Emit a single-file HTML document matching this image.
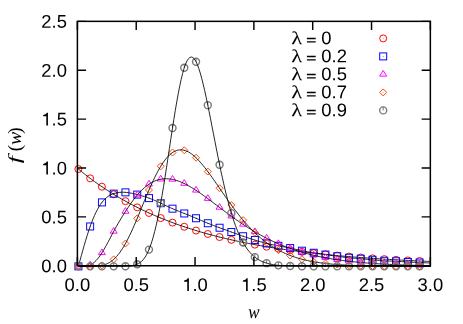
<!DOCTYPE html>
<html><head><meta charset="utf-8"><title>plot</title><style>html,body{margin:0;padding:0;background:#fff}svg{display:block;will-change:transform}</style></head><body>
<svg width="463" height="324" viewBox="0 0 463 324">
<rect width="463" height="324" fill="#fff"/>
<g fill="none" stroke="#ff0000" stroke-width="0.98"><circle cx="78.39" cy="169.08" r="3.5"/><circle cx="78.39" cy="169.08" r="0.45" fill="#ff0000" stroke="none"/><circle cx="90.15" cy="178.33" r="3.5"/><circle cx="90.15" cy="178.33" r="0.45" fill="#ff0000" stroke="none"/><circle cx="101.92" cy="186.71" r="3.5"/><circle cx="101.92" cy="186.71" r="0.45" fill="#ff0000" stroke="none"/><circle cx="113.68" cy="194.29" r="3.5"/><circle cx="113.68" cy="194.29" r="0.45" fill="#ff0000" stroke="none"/><circle cx="125.45" cy="201.15" r="3.5"/><circle cx="125.45" cy="201.15" r="0.45" fill="#ff0000" stroke="none"/><circle cx="137.21" cy="207.35" r="3.5"/><circle cx="137.21" cy="207.35" r="0.45" fill="#ff0000" stroke="none"/><circle cx="148.98" cy="212.97" r="3.5"/><circle cx="148.98" cy="212.97" r="0.45" fill="#ff0000" stroke="none"/><circle cx="160.74" cy="218.05" r="3.5"/><circle cx="160.74" cy="218.05" r="0.45" fill="#ff0000" stroke="none"/><circle cx="172.51" cy="222.64" r="3.5"/><circle cx="172.51" cy="222.64" r="0.45" fill="#ff0000" stroke="none"/><circle cx="184.27" cy="226.80" r="3.5"/><circle cx="184.27" cy="226.80" r="0.45" fill="#ff0000" stroke="none"/><circle cx="196.04" cy="230.57" r="3.5"/><circle cx="196.04" cy="230.57" r="0.45" fill="#ff0000" stroke="none"/><circle cx="207.80" cy="233.97" r="3.5"/><circle cx="207.80" cy="233.97" r="0.45" fill="#ff0000" stroke="none"/><circle cx="219.57" cy="237.05" r="3.5"/><circle cx="219.57" cy="237.05" r="0.45" fill="#ff0000" stroke="none"/><circle cx="231.33" cy="239.84" r="3.5"/><circle cx="231.33" cy="239.84" r="0.45" fill="#ff0000" stroke="none"/><circle cx="243.10" cy="242.36" r="3.5"/><circle cx="243.10" cy="242.36" r="0.45" fill="#ff0000" stroke="none"/><circle cx="254.86" cy="244.65" r="3.5"/><circle cx="254.86" cy="244.65" r="0.45" fill="#ff0000" stroke="none"/><circle cx="266.63" cy="246.71" r="3.5"/><circle cx="266.63" cy="246.71" r="0.45" fill="#ff0000" stroke="none"/><circle cx="278.39" cy="248.58" r="3.5"/><circle cx="278.39" cy="248.58" r="0.45" fill="#ff0000" stroke="none"/><circle cx="290.16" cy="250.27" r="3.5"/><circle cx="290.16" cy="250.27" r="0.45" fill="#ff0000" stroke="none"/><circle cx="301.92" cy="251.80" r="3.5"/><circle cx="301.92" cy="251.80" r="0.45" fill="#ff0000" stroke="none"/><circle cx="313.69" cy="253.19" r="3.5"/><circle cx="313.69" cy="253.19" r="0.45" fill="#ff0000" stroke="none"/><circle cx="325.45" cy="254.44" r="3.5"/><circle cx="325.45" cy="254.44" r="0.45" fill="#ff0000" stroke="none"/><circle cx="337.22" cy="255.57" r="3.5"/><circle cx="337.22" cy="255.57" r="0.45" fill="#ff0000" stroke="none"/><circle cx="348.98" cy="256.60" r="3.5"/><circle cx="348.98" cy="256.60" r="0.45" fill="#ff0000" stroke="none"/><circle cx="360.75" cy="257.53" r="3.5"/><circle cx="360.75" cy="257.53" r="0.45" fill="#ff0000" stroke="none"/><circle cx="372.51" cy="258.37" r="3.5"/><circle cx="372.51" cy="258.37" r="0.45" fill="#ff0000" stroke="none"/><circle cx="384.28" cy="259.13" r="3.5"/><circle cx="384.28" cy="259.13" r="0.45" fill="#ff0000" stroke="none"/><circle cx="396.04" cy="259.81" r="3.5"/><circle cx="396.04" cy="259.81" r="0.45" fill="#ff0000" stroke="none"/><circle cx="407.81" cy="260.43" r="3.5"/><circle cx="407.81" cy="260.43" r="0.45" fill="#ff0000" stroke="none"/><circle cx="419.57" cy="261.00" r="3.5"/><circle cx="419.57" cy="261.00" r="0.45" fill="#ff0000" stroke="none"/></g>
<path d="M78.39 169.08L79.86 170.26L81.32 171.43L82.79 172.60L84.26 173.77L85.73 174.93L87.20 176.07L88.67 177.20L90.13 178.32L91.60 179.42L93.07 180.50L94.54 181.57L96.01 182.62L97.47 183.65L98.94 184.68L100.41 185.69L101.88 186.68L103.35 187.67L104.82 188.64L106.28 189.61L107.75 190.56L109.22 191.50L110.69 192.43L112.16 193.35L113.62 194.25L115.09 195.15L116.56 196.03L118.03 196.90L119.50 197.76L120.97 198.61L122.43 199.45L123.90 200.28L125.37 201.10L126.84 201.91L128.31 202.71L129.77 203.50L131.24 204.28L132.71 205.05L134.18 205.81L135.65 206.56L137.12 207.30L138.58 208.03L140.05 208.76L141.52 209.47L142.99 210.18L144.46 210.87L145.92 211.56L147.39 212.24L148.86 212.91L150.33 213.58L151.80 214.23L153.27 214.88L154.73 215.51L156.20 216.14L157.67 216.77L159.14 217.38L160.61 217.99L162.07 218.59L163.54 219.18L165.01 219.77L166.48 220.34L167.95 220.91L169.42 221.48L170.88 222.03L172.35 222.58L173.82 223.13L175.29 223.66L176.76 224.19L178.22 224.72L179.69 225.23L181.16 225.74L182.63 226.25L184.10 226.74L185.56 227.23L187.03 227.72L188.50 228.20L189.97 228.67L191.44 229.14L192.91 229.60L194.37 230.06L195.84 230.51L197.31 230.95L198.78 231.39L200.25 231.82L201.71 232.25L203.18 232.67L204.65 233.09L206.12 233.50L207.59 233.91L209.06 234.31L210.52 234.71L211.99 235.10L213.46 235.49L214.93 235.87L216.40 236.25L217.86 236.62L219.33 236.99L220.80 237.36L222.27 237.72L223.74 238.07L225.21 238.42L226.67 238.77L228.14 239.11L229.61 239.45L231.08 239.78L232.55 240.11L234.01 240.44L235.48 240.76L236.95 241.08L238.42 241.39L239.89 241.70L241.36 242.00L242.82 242.31L244.29 242.61L245.76 242.90L247.23 243.19L248.70 243.48L250.16 243.76L251.63 244.04L253.10 244.32L254.57 244.59L256.04 244.86L257.51 245.13L258.97 245.39L260.44 245.65L261.91 245.91L263.38 246.16L264.85 246.41L266.31 246.66L267.78 246.90L269.25 247.14L270.72 247.38L272.19 247.62L273.66 247.85L275.12 248.08L276.59 248.31L278.06 248.53L279.53 248.75L281.00 248.97L282.46 249.18L283.93 249.40L285.40 249.61L286.87 249.82L288.34 250.02L289.81 250.22L291.27 250.42L292.74 250.62L294.21 250.82L295.68 251.01L297.15 251.20L298.61 251.39L300.08 251.57L301.55 251.75L303.02 251.94L304.49 252.11L305.96 252.29L307.42 252.47L308.89 252.64L310.36 252.81L311.83 252.98L313.30 253.14L314.76 253.31L316.23 253.47L317.70 253.63L319.17 253.78L320.64 253.94L322.11 254.09L323.57 254.25L325.04 254.40L326.51 254.54L327.98 254.69L329.45 254.84L330.91 254.98L332.38 255.12L333.85 255.26L335.32 255.40L336.79 255.53L338.26 255.67L339.72 255.80L341.19 255.93L342.66 256.06L344.13 256.19L345.60 256.31L347.06 256.44L348.53 256.56L350.00 256.68L351.47 256.80L352.94 256.92L354.40 257.04L355.87 257.15L357.34 257.27L358.81 257.38L360.28 257.49L361.75 257.60L363.21 257.71L364.68 257.82L366.15 257.92L367.62 258.03L369.09 258.13L370.55 258.23L372.02 258.33L373.49 258.43L374.96 258.53L376.43 258.63L377.90 258.72L379.36 258.82L380.83 258.91L382.30 259.00L383.77 259.09L385.24 259.18L386.70 259.27L388.17 259.36L389.64 259.45L391.11 259.53L392.58 259.62L394.05 259.70L395.51 259.78L396.98 259.86L398.45 259.95L399.92 260.02L401.39 260.10L402.85 260.18L404.32 260.26L405.79 260.33L407.26 260.41L408.73 260.48L410.20 260.55L411.66 260.63L413.13 260.70L414.60 260.77L416.07 260.84L417.54 260.90L419.00 260.97L420.47 261.04L421.94 261.10L423.41 261.17L424.88 261.23L426.35 261.29L427.81 261.36L429.28 261.42L430.75 261.48" fill="none" stroke="#000" stroke-width="0.85" stroke-linejoin="round"/>
<g fill="none" stroke="#0000ff" stroke-width="0.98"><rect x="74.89" y="262.85" width="7.0" height="7.0"/><circle cx="78.39" cy="266.35" r="0.45" fill="#0000ff" stroke="none"/><rect x="86.65" y="222.96" width="7.0" height="7.0"/><circle cx="90.15" cy="226.46" r="0.45" fill="#0000ff" stroke="none"/><rect x="98.42" y="198.91" width="7.0" height="7.0"/><circle cx="101.92" cy="202.41" r="0.45" fill="#0000ff" stroke="none"/><rect x="110.18" y="190.12" width="7.0" height="7.0"/><circle cx="113.68" cy="193.62" r="0.45" fill="#0000ff" stroke="none"/><rect x="121.95" y="188.85" width="7.0" height="7.0"/><circle cx="125.45" cy="192.35" r="0.45" fill="#0000ff" stroke="none"/><rect x="133.71" y="191.09" width="7.0" height="7.0"/><circle cx="137.21" cy="194.59" r="0.45" fill="#0000ff" stroke="none"/><rect x="145.48" y="194.61" width="7.0" height="7.0"/><circle cx="148.98" cy="198.11" r="0.45" fill="#0000ff" stroke="none"/><rect x="157.24" y="199.70" width="7.0" height="7.0"/><circle cx="160.74" cy="203.20" r="0.45" fill="#0000ff" stroke="none"/><rect x="169.01" y="205.17" width="7.0" height="7.0"/><circle cx="172.51" cy="208.67" r="0.45" fill="#0000ff" stroke="none"/><rect x="180.77" y="209.96" width="7.0" height="7.0"/><circle cx="184.27" cy="213.46" r="0.45" fill="#0000ff" stroke="none"/><rect x="192.54" y="214.75" width="7.0" height="7.0"/><circle cx="196.04" cy="218.25" r="0.45" fill="#0000ff" stroke="none"/><rect x="204.30" y="219.74" width="7.0" height="7.0"/><circle cx="207.80" cy="223.24" r="0.45" fill="#0000ff" stroke="none"/><rect x="216.07" y="224.23" width="7.0" height="7.0"/><circle cx="219.57" cy="227.73" r="0.45" fill="#0000ff" stroke="none"/><rect x="227.83" y="228.54" width="7.0" height="7.0"/><circle cx="231.33" cy="232.04" r="0.45" fill="#0000ff" stroke="none"/><rect x="239.60" y="232.74" width="7.0" height="7.0"/><circle cx="243.10" cy="236.24" r="0.45" fill="#0000ff" stroke="none"/><rect x="251.36" y="236.55" width="7.0" height="7.0"/><circle cx="254.86" cy="240.05" r="0.45" fill="#0000ff" stroke="none"/><rect x="263.13" y="239.88" width="7.0" height="7.0"/><circle cx="266.63" cy="243.38" r="0.45" fill="#0000ff" stroke="none"/><rect x="274.89" y="242.32" width="7.0" height="7.0"/><circle cx="278.39" cy="245.82" r="0.45" fill="#0000ff" stroke="none"/><rect x="286.66" y="244.57" width="7.0" height="7.0"/><circle cx="290.16" cy="248.07" r="0.45" fill="#0000ff" stroke="none"/><rect x="298.42" y="247.21" width="7.0" height="7.0"/><circle cx="301.92" cy="250.71" r="0.45" fill="#0000ff" stroke="none"/><rect x="310.19" y="249.26" width="7.0" height="7.0"/><circle cx="313.69" cy="252.76" r="0.45" fill="#0000ff" stroke="none"/><rect x="321.95" y="251.02" width="7.0" height="7.0"/><circle cx="325.45" cy="254.52" r="0.45" fill="#0000ff" stroke="none"/><rect x="333.72" y="252.78" width="7.0" height="7.0"/><circle cx="337.22" cy="256.28" r="0.45" fill="#0000ff" stroke="none"/><rect x="345.48" y="254.25" width="7.0" height="7.0"/><circle cx="348.98" cy="257.75" r="0.45" fill="#0000ff" stroke="none"/><rect x="357.25" y="255.22" width="7.0" height="7.0"/><circle cx="360.75" cy="258.72" r="0.45" fill="#0000ff" stroke="none"/><rect x="369.01" y="256.30" width="7.0" height="7.0"/><circle cx="372.51" cy="259.80" r="0.45" fill="#0000ff" stroke="none"/><rect x="380.78" y="257.28" width="7.0" height="7.0"/><circle cx="384.28" cy="260.78" r="0.45" fill="#0000ff" stroke="none"/><rect x="392.54" y="257.77" width="7.0" height="7.0"/><circle cx="396.04" cy="261.27" r="0.45" fill="#0000ff" stroke="none"/><rect x="404.31" y="258.45" width="7.0" height="7.0"/><circle cx="407.81" cy="261.95" r="0.45" fill="#0000ff" stroke="none"/><rect x="416.07" y="259.04" width="7.0" height="7.0"/><circle cx="419.57" cy="262.54" r="0.45" fill="#0000ff" stroke="none"/></g>
<path d="M78.39 266.35L79.86 260.97L81.32 255.63L82.79 250.36L84.26 245.21L85.73 240.21L87.20 235.41L88.67 230.83L90.13 226.52L91.60 222.51L93.07 218.80L94.54 215.38L96.01 212.25L97.47 209.40L98.94 206.82L100.41 204.51L101.88 202.47L103.35 200.67L104.82 199.12L106.28 197.78L107.75 196.63L109.22 195.67L110.69 194.86L112.16 194.19L113.62 193.64L115.09 193.19L116.56 192.83L118.03 192.56L119.50 192.37L120.97 192.26L122.43 192.22L123.90 192.25L125.37 192.34L126.84 192.48L128.31 192.68L129.77 192.92L131.24 193.20L132.71 193.51L134.18 193.84L135.65 194.20L137.12 194.57L138.58 194.95L140.05 195.34L141.52 195.74L142.99 196.16L144.46 196.60L145.92 197.06L147.39 197.55L148.86 198.07L150.33 198.62L151.80 199.20L153.27 199.81L154.73 200.44L156.20 201.10L157.67 201.76L159.14 202.44L160.61 203.13L162.07 203.83L163.54 204.52L165.01 205.22L166.48 205.92L167.95 206.60L169.42 207.28L170.88 207.95L172.35 208.60L173.82 209.24L175.29 209.86L176.76 210.46L178.22 211.06L179.69 211.65L181.16 212.23L182.63 212.81L184.10 213.39L185.56 213.97L187.03 214.56L188.50 215.15L189.97 215.74L191.44 216.34L192.91 216.94L194.37 217.55L195.84 218.17L197.31 218.79L198.78 219.42L200.25 220.05L201.71 220.68L203.18 221.31L204.65 221.93L206.12 222.54L207.59 223.15L209.06 223.74L210.52 224.32L211.99 224.90L213.46 225.46L214.93 226.01L216.40 226.56L217.86 227.11L219.33 227.65L220.80 228.19L222.27 228.73L223.74 229.26L225.21 229.80L226.67 230.34L228.14 230.87L229.61 231.41L231.08 231.94L232.55 232.48L234.01 233.01L235.48 233.54L236.95 234.07L238.42 234.60L239.89 235.12L241.36 235.64L242.82 236.15L244.29 236.65L245.76 237.14L247.23 237.63L248.70 238.11L250.16 238.58L251.63 239.04L253.10 239.51L254.57 239.96L256.04 240.41L257.51 240.86L258.97 241.29L260.44 241.72L261.91 242.14L263.38 242.54L264.85 242.93L266.31 243.30L267.78 243.65L269.25 243.99L270.72 244.31L272.19 244.62L273.66 244.92L275.12 245.20L276.59 245.48L278.06 245.76L279.53 246.03L281.00 246.30L282.46 246.57L283.93 246.84L285.40 247.11L286.87 247.40L288.34 247.69L289.81 247.99L291.27 248.31L292.74 248.64L294.21 248.97L295.68 249.31L297.15 249.65L298.61 249.99L300.08 250.32L301.55 250.63L303.02 250.93L304.49 251.22L305.96 251.49L307.42 251.75L308.89 252.00L310.36 252.24L311.83 252.47L313.30 252.70L314.76 252.93L316.23 253.15L317.70 253.37L319.17 253.59L320.64 253.80L322.11 254.02L323.57 254.24L325.04 254.46L326.51 254.68L327.98 254.90L329.45 255.12L330.91 255.35L332.38 255.57L333.85 255.79L335.32 256.01L336.79 256.22L338.26 256.43L339.72 256.63L341.19 256.83L342.66 257.02L344.13 257.21L345.60 257.38L347.06 257.55L348.53 257.70L350.00 257.85L351.47 257.98L352.94 258.11L354.40 258.22L355.87 258.34L357.34 258.45L358.81 258.57L360.28 258.69L361.75 258.81L363.21 258.93L364.68 259.06L366.15 259.20L367.62 259.33L369.09 259.47L370.55 259.61L372.02 259.75L373.49 259.89L374.96 260.03L376.43 260.17L377.90 260.30L379.36 260.43L380.83 260.54L382.30 260.65L383.77 260.75L385.24 260.83L386.70 260.90L388.17 260.96L389.64 261.02L391.11 261.07L392.58 261.13L394.05 261.18L395.51 261.24L396.98 261.31L398.45 261.39L399.92 261.47L401.39 261.56L402.85 261.65L404.32 261.74L405.79 261.83L407.26 261.92L408.73 262.00L410.20 262.09L411.66 262.16L413.13 262.24L414.60 262.31L416.07 262.38L417.54 262.45L419.00 262.51L420.47 262.58L421.94 262.64L423.41 262.70L424.88 262.76L426.35 262.82L427.81 262.88L429.28 262.94L430.75 263.00" fill="none" stroke="#000" stroke-width="0.85" stroke-linejoin="round"/>
<g fill="none" stroke="#ff00ff" stroke-width="0.98"><path d="M78.39 262.43L74.89 268.10H81.89Z"/><circle cx="78.39" cy="266.35" r="0.45" fill="#ff00ff" stroke="none"/><path d="M90.15 261.26L86.65 266.93H93.65Z"/><circle cx="90.15" cy="265.18" r="0.45" fill="#ff00ff" stroke="none"/><path d="M101.92 248.94L98.42 254.61H105.42Z"/><circle cx="101.92" cy="252.86" r="0.45" fill="#ff00ff" stroke="none"/><path d="M113.68 227.49L110.18 233.16H117.18Z"/><circle cx="113.68" cy="231.41" r="0.45" fill="#ff00ff" stroke="none"/><path d="M125.45 207.59L121.95 213.26H128.95Z"/><circle cx="125.45" cy="211.51" r="0.45" fill="#ff00ff" stroke="none"/><path d="M137.21 191.17L133.71 196.84H140.71Z"/><circle cx="137.21" cy="195.09" r="0.45" fill="#ff00ff" stroke="none"/><path d="M148.98 180.30L145.48 185.97H152.48Z"/><circle cx="148.98" cy="184.22" r="0.45" fill="#ff00ff" stroke="none"/><path d="M160.74 175.31L157.24 180.98H164.24Z"/><circle cx="160.74" cy="179.23" r="0.45" fill="#ff00ff" stroke="none"/><path d="M172.51 175.49L169.01 181.16H176.01Z"/><circle cx="172.51" cy="179.41" r="0.45" fill="#ff00ff" stroke="none"/><path d="M184.27 179.63L180.77 185.30H187.77Z"/><circle cx="184.27" cy="183.55" r="0.45" fill="#ff00ff" stroke="none"/><path d="M196.04 186.42L192.54 192.09H199.54Z"/><circle cx="196.04" cy="190.34" r="0.45" fill="#ff00ff" stroke="none"/><path d="M207.80 194.70L204.30 200.37H211.30Z"/><circle cx="207.80" cy="198.62" r="0.45" fill="#ff00ff" stroke="none"/><path d="M219.57 203.56L216.07 209.23H223.07Z"/><circle cx="219.57" cy="207.48" r="0.45" fill="#ff00ff" stroke="none"/><path d="M231.33 212.30L227.83 217.97H234.83Z"/><circle cx="231.33" cy="216.22" r="0.45" fill="#ff00ff" stroke="none"/><path d="M243.10 220.50L239.60 226.17H246.60Z"/><circle cx="243.10" cy="224.42" r="0.45" fill="#ff00ff" stroke="none"/><path d="M254.86 227.88L251.36 233.55H258.36Z"/><circle cx="254.86" cy="231.80" r="0.45" fill="#ff00ff" stroke="none"/><path d="M266.63 234.34L263.13 240.01H270.13Z"/><circle cx="266.63" cy="238.26" r="0.45" fill="#ff00ff" stroke="none"/><path d="M278.39 239.86L274.89 245.53H281.89Z"/><circle cx="278.39" cy="243.78" r="0.45" fill="#ff00ff" stroke="none"/><path d="M290.16 244.48L286.66 250.15H293.66Z"/><circle cx="290.16" cy="248.40" r="0.45" fill="#ff00ff" stroke="none"/><path d="M301.92 248.28L298.42 253.95H305.42Z"/><circle cx="301.92" cy="252.20" r="0.45" fill="#ff00ff" stroke="none"/><path d="M313.69 251.38L310.19 257.05H317.19Z"/><circle cx="313.69" cy="255.30" r="0.45" fill="#ff00ff" stroke="none"/><path d="M325.45 253.85L321.95 259.52H328.95Z"/><circle cx="325.45" cy="257.77" r="0.45" fill="#ff00ff" stroke="none"/><path d="M337.22 255.82L333.72 261.49H340.72Z"/><circle cx="337.22" cy="259.74" r="0.45" fill="#ff00ff" stroke="none"/><path d="M348.98 257.37L345.48 263.04H352.48Z"/><circle cx="348.98" cy="261.29" r="0.45" fill="#ff00ff" stroke="none"/><path d="M360.75 258.58L357.25 264.25H364.25Z"/><circle cx="360.75" cy="262.50" r="0.45" fill="#ff00ff" stroke="none"/><path d="M372.51 259.51L369.01 265.18H376.01Z"/><circle cx="372.51" cy="263.43" r="0.45" fill="#ff00ff" stroke="none"/><path d="M384.28 260.23L380.78 265.90H387.78Z"/><circle cx="384.28" cy="264.15" r="0.45" fill="#ff00ff" stroke="none"/><path d="M396.04 260.78L392.54 266.45H399.54Z"/><circle cx="396.04" cy="264.70" r="0.45" fill="#ff00ff" stroke="none"/><path d="M407.81 261.20L404.31 266.87H411.31Z"/><circle cx="407.81" cy="265.12" r="0.45" fill="#ff00ff" stroke="none"/><path d="M419.57 261.51L416.07 267.18H423.07Z"/><circle cx="419.57" cy="265.43" r="0.45" fill="#ff00ff" stroke="none"/></g>
<path d="M78.39 266.35L79.86 266.35L81.32 266.35L82.79 266.35L84.26 266.35L85.73 266.35L87.20 266.23L88.67 265.80L90.13 265.19L91.60 264.36L93.07 263.32L94.54 262.07L96.01 260.63L97.47 258.98L98.94 257.15L100.41 255.12L101.88 252.92L103.35 250.54L104.82 248.02L106.28 245.38L107.75 242.65L109.22 239.87L110.69 237.07L112.16 234.28L113.62 231.52L115.09 228.83L116.56 226.20L118.03 223.64L119.50 221.14L120.97 218.69L122.43 216.29L123.90 213.94L125.37 211.64L126.84 209.37L128.31 207.15L129.77 204.99L131.24 202.88L132.71 200.84L134.18 198.88L135.65 197.00L137.12 195.21L138.58 193.51L140.05 191.91L141.52 190.40L142.99 188.99L144.46 187.68L145.92 186.46L147.39 185.33L148.86 184.29L150.33 183.35L151.80 182.50L153.27 181.75L154.73 181.08L156.20 180.49L157.67 180.00L159.14 179.59L160.61 179.26L162.07 179.01L163.54 178.85L165.01 178.76L166.48 178.74L167.95 178.80L169.42 178.93L170.88 179.12L172.35 179.38L173.82 179.70L175.29 180.08L176.76 180.52L178.22 181.01L179.69 181.55L181.16 182.14L182.63 182.78L184.10 183.46L185.56 184.18L187.03 184.95L188.50 185.75L189.97 186.58L191.44 187.44L192.91 188.34L194.37 189.26L195.84 190.21L197.31 191.18L198.78 192.17L200.25 193.18L201.71 194.21L203.18 195.26L204.65 196.31L206.12 197.38L207.59 198.46L209.06 199.55L210.52 200.65L211.99 201.75L213.46 202.86L214.93 203.97L216.40 205.08L217.86 206.19L219.33 207.30L220.80 208.41L222.27 209.51L223.74 210.62L225.21 211.71L226.67 212.81L228.14 213.89L229.61 214.97L231.08 216.04L232.55 217.10L234.01 218.15L235.48 219.19L236.95 220.22L238.42 221.25L239.89 222.25L241.36 223.25L242.82 224.24L244.29 225.21L245.76 226.17L247.23 227.11L248.70 228.04L250.16 228.96L251.63 229.86L253.10 230.75L254.57 231.63L256.04 232.49L257.51 233.34L258.97 234.17L260.44 234.98L261.91 235.79L263.38 236.57L264.85 237.35L266.31 238.10L267.78 238.85L269.25 239.57L270.72 240.29L272.19 240.99L273.66 241.67L275.12 242.34L276.59 242.99L278.06 243.64L279.53 244.26L281.00 244.88L282.46 245.48L283.93 246.06L285.40 246.63L286.87 247.19L288.34 247.74L289.81 248.27L291.27 248.79L292.74 249.30L294.21 249.80L295.68 250.28L297.15 250.75L298.61 251.21L300.08 251.66L301.55 252.10L303.02 252.52L304.49 252.94L305.96 253.34L307.42 253.73L308.89 254.11L310.36 254.49L311.83 254.85L313.30 255.20L314.76 255.55L316.23 255.88L317.70 256.20L319.17 256.52L320.64 256.83L322.11 257.13L323.57 257.42L325.04 257.70L326.51 257.97L327.98 258.24L329.45 258.50L330.91 258.75L332.38 258.99L333.85 259.23L335.32 259.46L336.79 259.68L338.26 259.90L339.72 260.11L341.19 260.31L342.66 260.51L344.13 260.70L345.60 260.88L347.06 261.06L348.53 261.24L350.00 261.41L351.47 261.57L352.94 261.73L354.40 261.89L355.87 262.03L357.34 262.18L358.81 262.32L360.28 262.46L361.75 262.59L363.21 262.71L364.68 262.84L366.15 262.96L367.62 263.07L369.09 263.18L370.55 263.29L372.02 263.40L373.49 263.50L374.96 263.60L376.43 263.69L377.90 263.78L379.36 263.87L380.83 263.96L382.30 264.04L383.77 264.12L385.24 264.20L386.70 264.28L388.17 264.35L389.64 264.42L391.11 264.49L392.58 264.55L394.05 264.62L395.51 264.68L396.98 264.74L398.45 264.79L399.92 264.85L401.39 264.90L402.85 264.95L404.32 265.00L405.79 265.05L407.26 265.10L408.73 265.14L410.20 265.19L411.66 265.23L413.13 265.27L414.60 265.31L416.07 265.35L417.54 265.38L419.00 265.42L420.47 265.45L421.94 265.48L423.41 265.51L424.88 265.54L426.35 265.57L427.81 265.60L429.28 265.63L430.75 265.66" fill="none" stroke="#000" stroke-width="0.85" stroke-linejoin="round"/>
<g fill="none" stroke="#ff4500" stroke-width="0.98"><path d="M78.39 262.85L74.89 266.35L78.39 269.85L81.89 266.35Z"/><circle cx="78.39" cy="266.35" r="0.45" fill="#ff4500" stroke="none"/><path d="M90.15 262.83L86.65 266.33L90.15 269.83L93.65 266.33Z"/><circle cx="90.15" cy="266.33" r="0.45" fill="#ff4500" stroke="none"/><path d="M101.92 261.89L98.42 265.39L101.92 268.89L105.42 265.39Z"/><circle cx="101.92" cy="265.39" r="0.45" fill="#ff4500" stroke="none"/><path d="M113.68 255.89L110.18 259.39L113.68 262.89L117.18 259.39Z"/><circle cx="113.68" cy="259.39" r="0.45" fill="#ff4500" stroke="none"/><path d="M125.45 240.07L121.95 243.57L125.45 247.07L128.95 243.57Z"/><circle cx="125.45" cy="243.57" r="0.45" fill="#ff4500" stroke="none"/><path d="M137.21 214.88L133.71 218.38L137.21 221.88L140.71 218.38Z"/><circle cx="137.21" cy="218.38" r="0.45" fill="#ff4500" stroke="none"/><path d="M148.98 186.51L145.48 190.01L148.98 193.51L152.48 190.01Z"/><circle cx="148.98" cy="190.01" r="0.45" fill="#ff4500" stroke="none"/><path d="M160.74 162.77L157.24 166.27L160.74 169.77L164.24 166.27Z"/><circle cx="160.74" cy="166.27" r="0.45" fill="#ff4500" stroke="none"/><path d="M172.51 149.04L169.01 152.54L172.51 156.04L176.01 152.54Z"/><circle cx="172.51" cy="152.54" r="0.45" fill="#ff4500" stroke="none"/><path d="M184.27 146.79L180.77 150.29L184.27 153.79L187.77 150.29Z"/><circle cx="184.27" cy="150.29" r="0.45" fill="#ff4500" stroke="none"/><path d="M196.04 154.24L192.54 157.74L196.04 161.24L199.54 157.74Z"/><circle cx="196.04" cy="157.74" r="0.45" fill="#ff4500" stroke="none"/><path d="M207.80 168.05L204.30 171.55L207.80 175.05L211.30 171.55Z"/><circle cx="207.80" cy="171.55" r="0.45" fill="#ff4500" stroke="none"/><path d="M219.57 184.73L216.07 188.23L219.57 191.73L223.07 188.23Z"/><circle cx="219.57" cy="188.23" r="0.45" fill="#ff4500" stroke="none"/><path d="M231.33 201.52L227.83 205.02L231.33 208.52L234.83 205.02Z"/><circle cx="231.33" cy="205.02" r="0.45" fill="#ff4500" stroke="none"/><path d="M243.10 216.64L239.60 220.14L243.10 223.64L246.60 220.14Z"/><circle cx="243.10" cy="220.14" r="0.45" fill="#ff4500" stroke="none"/><path d="M254.86 229.25L251.36 232.75L254.86 236.25L258.36 232.75Z"/><circle cx="254.86" cy="232.75" r="0.45" fill="#ff4500" stroke="none"/><path d="M266.63 239.17L263.13 242.67L266.63 246.17L270.13 242.67Z"/><circle cx="266.63" cy="242.67" r="0.45" fill="#ff4500" stroke="none"/><path d="M278.39 246.60L274.89 250.10L278.39 253.60L281.89 250.10Z"/><circle cx="278.39" cy="250.10" r="0.45" fill="#ff4500" stroke="none"/><path d="M290.16 251.97L286.66 255.47L290.16 258.97L293.66 255.47Z"/><circle cx="290.16" cy="255.47" r="0.45" fill="#ff4500" stroke="none"/><path d="M301.92 255.72L298.42 259.22L301.92 262.72L305.42 259.22Z"/><circle cx="301.92" cy="259.22" r="0.45" fill="#ff4500" stroke="none"/><path d="M313.69 258.27L310.19 261.77L313.69 265.27L317.19 261.77Z"/><circle cx="313.69" cy="261.77" r="0.45" fill="#ff4500" stroke="none"/><path d="M325.45 259.95L321.95 263.45L325.45 266.95L328.95 263.45Z"/><circle cx="325.45" cy="263.45" r="0.45" fill="#ff4500" stroke="none"/><path d="M337.22 261.05L333.72 264.55L337.22 268.05L340.72 264.55Z"/><circle cx="337.22" cy="264.55" r="0.45" fill="#ff4500" stroke="none"/><path d="M348.98 261.75L345.48 265.25L348.98 268.75L352.48 265.25Z"/><circle cx="348.98" cy="265.25" r="0.45" fill="#ff4500" stroke="none"/><path d="M360.75 262.18L357.25 265.68L360.75 269.18L364.25 265.68Z"/><circle cx="360.75" cy="265.68" r="0.45" fill="#ff4500" stroke="none"/><path d="M372.51 262.45L369.01 265.95L372.51 269.45L376.01 265.95Z"/><circle cx="372.51" cy="265.95" r="0.45" fill="#ff4500" stroke="none"/><path d="M384.28 262.61L380.78 266.11L384.28 269.61L387.78 266.11Z"/><circle cx="384.28" cy="266.11" r="0.45" fill="#ff4500" stroke="none"/><path d="M396.04 262.71L392.54 266.21L396.04 269.71L399.54 266.21Z"/><circle cx="396.04" cy="266.21" r="0.45" fill="#ff4500" stroke="none"/><path d="M407.81 262.77L404.31 266.27L407.81 269.77L411.31 266.27Z"/><circle cx="407.81" cy="266.27" r="0.45" fill="#ff4500" stroke="none"/><path d="M419.57 262.80L416.07 266.30L419.57 269.80L423.07 266.30Z"/><circle cx="419.57" cy="266.30" r="0.45" fill="#ff4500" stroke="none"/></g>
<path d="M78.39 266.35L79.86 266.35L81.32 266.35L82.79 266.35L84.26 266.35L85.73 266.35L87.20 266.34L88.67 266.34L90.13 266.33L91.60 266.32L93.07 266.29L94.54 266.25L96.01 266.17L97.47 266.06L98.94 265.90L100.41 265.68L101.88 265.40L103.35 265.04L104.82 264.59L106.28 264.05L107.75 263.39L109.22 262.62L110.69 261.71L112.16 260.65L113.62 259.44L115.09 258.06L116.56 256.51L118.03 254.79L119.50 252.91L120.97 250.86L122.43 248.64L123.90 246.26L125.37 243.71L126.84 241.01L128.31 238.15L129.77 235.15L131.24 232.04L132.71 228.81L134.18 225.49L135.65 222.09L137.12 218.62L138.58 215.09L140.05 211.53L141.52 207.94L142.99 204.35L144.46 200.78L145.92 197.23L147.39 193.72L148.86 190.28L150.33 186.92L151.80 183.64L153.27 180.47L154.73 177.41L156.20 174.47L157.67 171.66L159.14 169.00L160.61 166.49L162.07 164.15L163.54 161.98L165.01 159.98L166.48 158.16L167.95 156.51L169.42 155.04L170.88 153.75L172.35 152.65L173.82 151.73L175.29 151.00L176.76 150.45L178.22 150.07L179.69 149.87L181.16 149.83L182.63 149.96L184.10 150.24L185.56 150.68L187.03 151.27L188.50 152.00L189.97 152.87L191.44 153.87L192.91 154.98L194.37 156.21L195.84 157.55L197.31 158.99L198.78 160.52L200.25 162.13L201.71 163.83L203.18 165.60L204.65 167.43L206.12 169.32L207.59 171.26L209.06 173.24L210.52 175.26L211.99 177.32L213.46 179.40L214.93 181.50L216.40 183.62L217.86 185.75L219.33 187.89L220.80 190.02L222.27 192.15L223.74 194.28L225.21 196.39L226.67 198.49L228.14 200.57L229.61 202.63L231.08 204.67L232.55 206.68L234.01 208.65L235.48 210.60L236.95 212.52L238.42 214.40L239.89 216.24L241.36 218.05L242.82 219.82L244.29 221.54L245.76 223.23L247.23 224.88L248.70 226.48L250.16 228.04L251.63 229.56L253.10 231.04L254.57 232.47L256.04 233.86L257.51 235.21L258.97 236.52L260.44 237.78L261.91 239.01L263.38 240.19L264.85 241.33L266.31 242.44L267.78 243.50L269.25 244.53L270.72 245.52L272.19 246.47L273.66 247.38L275.12 248.26L276.59 249.11L278.06 249.92L279.53 250.70L281.00 251.45L282.46 252.17L283.93 252.86L285.40 253.52L286.87 254.15L288.34 254.76L289.81 255.34L291.27 255.89L292.74 256.42L294.21 256.92L295.68 257.41L297.15 257.87L298.61 258.30L300.08 258.72L301.55 259.12L303.02 259.50L304.49 259.86L305.96 260.21L307.42 260.54L308.89 260.85L310.36 261.15L311.83 261.43L313.30 261.70L314.76 261.95L316.23 262.19L317.70 262.42L319.17 262.64L320.64 262.85L322.11 263.04L323.57 263.23L325.04 263.41L326.51 263.57L327.98 263.73L329.45 263.88L330.91 264.02L332.38 264.16L333.85 264.28L335.32 264.40L336.79 264.52L338.26 264.62L339.72 264.73L341.19 264.82L342.66 264.91L344.13 265.00L345.60 265.08L347.06 265.15L348.53 265.23L350.00 265.29L351.47 265.36L352.94 265.42L354.40 265.47L355.87 265.53L357.34 265.58L358.81 265.62L360.28 265.67L361.75 265.71L363.21 265.75L364.68 265.79L366.15 265.82L367.62 265.86L369.09 265.89L370.55 265.92L372.02 265.94L373.49 265.97L374.96 265.99L376.43 266.01L377.90 266.04L379.36 266.06L380.83 266.07L382.30 266.09L383.77 266.11L385.24 266.12L386.70 266.14L388.17 266.15L389.64 266.17L391.11 266.18L392.58 266.19L394.05 266.20L395.51 266.21L396.98 266.22L398.45 266.23L399.92 266.23L401.39 266.24L402.85 266.25L404.32 266.26L405.79 266.26L407.26 266.27L408.73 266.27L410.20 266.28L411.66 266.28L413.13 266.29L414.60 266.29L416.07 266.30L417.54 266.30L419.00 266.30L420.47 266.31L421.94 266.31L423.41 266.31L424.88 266.31L426.35 266.32L427.81 266.32L429.28 266.32L430.75 266.32" fill="none" stroke="#000" stroke-width="0.85" stroke-linejoin="round"/>
<g fill="none" stroke="#787878" stroke-width="1.4"><circle cx="78.39" cy="266.35" r="3.5"/><path d="M78.39 266.35V262.85" stroke-width="1"/><circle cx="90.15" cy="266.35" r="3.5"/><path d="M90.15 266.35V262.85" stroke-width="1"/><circle cx="101.92" cy="266.35" r="3.5"/><path d="M101.92 266.35V262.85" stroke-width="1"/><circle cx="113.68" cy="266.35" r="3.5"/><path d="M113.68 266.35V262.85" stroke-width="1"/><circle cx="125.45" cy="266.26" r="3.5"/><path d="M125.45 266.26V262.76" stroke-width="1"/><circle cx="137.21" cy="264.25" r="3.5"/><path d="M137.21 264.25V260.75" stroke-width="1"/><circle cx="148.98" cy="249.60" r="3.5"/><path d="M148.98 249.60V246.10" stroke-width="1"/><circle cx="160.74" cy="203.00" r="3.5"/><path d="M160.74 203.00V199.50" stroke-width="1"/><circle cx="172.51" cy="127.96" r="3.5"/><path d="M172.51 127.96V124.46" stroke-width="1"/><circle cx="184.27" cy="67.70" r="3.5"/><path d="M184.27 67.70V64.20" stroke-width="1"/><circle cx="196.04" cy="61.69" r="3.5"/><path d="M196.04 61.69V58.19" stroke-width="1"/><circle cx="207.80" cy="105.17" r="3.5"/><path d="M207.80 105.17V101.67" stroke-width="1"/><circle cx="219.57" cy="164.69" r="3.5"/><path d="M219.57 164.69V161.19" stroke-width="1"/><circle cx="231.33" cy="213.14" r="3.5"/><path d="M231.33 213.14V209.64" stroke-width="1"/><circle cx="243.10" cy="242.60" r="3.5"/><path d="M243.10 242.60V239.10" stroke-width="1"/><circle cx="254.86" cy="257.10" r="3.5"/><path d="M254.86 257.10V253.60" stroke-width="1"/><circle cx="266.63" cy="263.16" r="3.5"/><path d="M266.63 263.16V259.66" stroke-width="1"/><circle cx="278.39" cy="265.36" r="3.5"/><path d="M278.39 265.36V261.86" stroke-width="1"/><circle cx="290.16" cy="266.07" r="3.5"/><path d="M290.16 266.07V262.57" stroke-width="1"/><circle cx="301.92" cy="266.28" r="3.5"/><path d="M301.92 266.28V262.78" stroke-width="1"/><circle cx="313.69" cy="266.33" r="3.5"/><path d="M313.69 266.33V262.83" stroke-width="1"/><circle cx="325.45" cy="266.35" r="3.5"/><path d="M325.45 266.35V262.85" stroke-width="1"/><circle cx="337.22" cy="266.35" r="3.5"/><path d="M337.22 266.35V262.85" stroke-width="1"/><circle cx="348.98" cy="266.35" r="3.5"/><path d="M348.98 266.35V262.85" stroke-width="1"/><circle cx="360.75" cy="266.35" r="3.5"/><path d="M360.75 266.35V262.85" stroke-width="1"/><circle cx="372.51" cy="266.35" r="3.5"/><path d="M372.51 266.35V262.85" stroke-width="1"/><circle cx="384.28" cy="266.35" r="3.5"/><path d="M384.28 266.35V262.85" stroke-width="1"/><circle cx="396.04" cy="266.35" r="3.5"/><path d="M396.04 266.35V262.85" stroke-width="1"/><circle cx="407.81" cy="266.35" r="3.5"/><path d="M407.81 266.35V262.85" stroke-width="1"/><circle cx="419.57" cy="266.35" r="3.5"/><path d="M419.57 266.35V262.85" stroke-width="1"/></g>
<path d="M78.39 266.35L79.86 266.35L81.32 266.35L82.79 266.35L84.26 266.35L85.73 266.35L87.20 266.35L88.67 266.35L90.13 266.35L91.60 266.35L93.07 266.35L94.54 266.35L96.01 266.35L97.47 266.35L98.94 266.35L100.41 266.35L101.88 266.35L103.35 266.35L104.82 266.35L106.28 266.35L107.75 266.35L109.22 266.35L110.69 266.35L112.16 266.35L113.62 266.35L115.09 266.35L116.56 266.35L118.03 266.34L119.50 266.33L120.97 266.32L122.43 266.31L123.90 266.29L125.37 266.26L126.84 266.23L128.31 266.17L129.77 266.07L131.24 265.91L132.71 265.67L134.18 265.33L135.65 264.88L137.12 264.30L138.58 263.56L140.05 262.61L141.52 261.42L142.99 259.92L144.46 258.07L145.92 255.81L147.39 253.10L148.86 249.88L150.33 246.11L151.80 241.78L153.27 236.87L154.73 231.40L156.20 225.36L157.67 218.74L159.14 211.54L160.61 203.76L162.07 195.41L163.54 186.56L165.01 177.33L166.48 167.82L167.95 158.12L169.42 148.35L170.88 138.60L172.35 128.98L173.82 119.59L175.29 110.53L176.76 101.88L178.22 93.76L179.69 86.23L181.16 79.41L182.63 73.39L184.10 68.25L185.56 64.08L187.03 60.89L188.50 58.67L189.97 57.38L191.44 57.02L192.91 57.57L194.37 59.00L195.84 61.31L197.31 64.47L198.78 68.42L200.25 73.06L201.71 78.34L203.18 84.16L204.65 90.45L206.12 97.13L207.59 104.12L209.06 111.34L210.52 118.74L211.99 126.25L213.46 133.81L214.93 141.38L216.40 148.90L217.86 156.31L219.33 163.55L220.80 170.57L222.27 177.35L223.74 183.88L225.21 190.14L226.67 196.12L228.14 201.82L229.61 207.21L231.08 212.29L232.55 217.05L234.01 221.49L235.48 225.63L236.95 229.47L238.42 233.02L239.89 236.31L241.36 239.33L242.82 242.11L244.29 244.64L245.76 246.95L247.23 249.05L248.70 250.95L250.16 252.67L251.63 254.22L253.10 255.62L254.57 256.87L256.04 257.99L257.51 259.00L258.97 259.90L260.44 260.70L261.91 261.40L263.38 262.02L264.85 262.57L266.31 263.06L267.78 263.49L269.25 263.87L270.72 264.20L272.19 264.49L273.66 264.75L275.12 264.97L276.59 265.16L278.06 265.32L279.53 265.47L281.00 265.59L282.46 265.70L283.93 265.80L285.40 265.88L286.87 265.95L288.34 266.01L289.81 266.06L291.27 266.10L292.74 266.14L294.21 266.17L295.68 266.20L297.15 266.22L298.61 266.24L300.08 266.26L301.55 266.27L303.02 266.29L304.49 266.30L305.96 266.30L307.42 266.31L308.89 266.32L310.36 266.32L311.83 266.33L313.30 266.33L314.76 266.33L316.23 266.34L317.70 266.34L319.17 266.34L320.64 266.34L322.11 266.34L323.57 266.34L325.04 266.35L326.51 266.35L327.98 266.35L329.45 266.35L330.91 266.35L332.38 266.35L333.85 266.35L335.32 266.35L336.79 266.35L338.26 266.35L339.72 266.35L341.19 266.35L342.66 266.35L344.13 266.35L345.60 266.35L347.06 266.35L348.53 266.35L350.00 266.35L351.47 266.35L352.94 266.35L354.40 266.35L355.87 266.35L357.34 266.35L358.81 266.35L360.28 266.35L361.75 266.35L363.21 266.35L364.68 266.35L366.15 266.35L367.62 266.35L369.09 266.35L370.55 266.35L372.02 266.35L373.49 266.35L374.96 266.35L376.43 266.35L377.90 266.35L379.36 266.35L380.83 266.35L382.30 266.35L383.77 266.35L385.24 266.35L386.70 266.35L388.17 266.35L389.64 266.35L391.11 266.35L392.58 266.35L394.05 266.35L395.51 266.35L396.98 266.35L398.45 266.35L399.92 266.35L401.39 266.35L402.85 266.35L404.32 266.35L405.79 266.35L407.26 266.35L408.73 266.35L410.20 266.35L411.66 266.35L413.13 266.35L414.60 266.35L416.07 266.35L417.54 266.35L419.00 266.35L420.47 266.35L421.94 266.35L423.41 266.35L424.88 266.35L426.35 266.35L427.81 266.35L429.28 266.35L430.75 266.35" fill="none" stroke="#000" stroke-width="0.85" stroke-linejoin="round"/>
<rect x="77.4" y="21.35" width="352.95000000000005" height="244.4" fill="none" stroke="#000" stroke-width="1.5"/>
<path d="M77.40 265.75v-8.7M77.40 21.35v8.7M136.23 265.75v-8.7M136.23 21.35v8.7M195.05 265.75v-8.7M195.05 21.35v8.7M253.88 265.75v-8.7M253.88 21.35v8.7M312.70 265.75v-8.7M312.70 21.35v8.7M371.53 265.75v-8.7M371.53 21.35v8.7M430.35 265.75v-8.7M430.35 21.35v8.7M77.4 265.75h8.7M430.35 265.75h-8.7M77.4 216.87h8.7M430.35 216.87h-8.7M77.4 167.99h8.7M430.35 167.99h-8.7M77.4 119.11h8.7M430.35 119.11h-8.7M77.4 70.23h8.7M430.35 70.23h-8.7M77.4 21.35h8.7M430.35 21.35h-8.7" fill="none" stroke="#000" stroke-width="1.45"/>
<g font-family="'Liberation Sans', sans-serif" font-size="18.4" fill="#000">
<text transform="translate(64.61 291.10) rotate(0.05)">0.0</text>
<text transform="translate(123.44 291.10) rotate(0.05)">0.5</text>
<path transform="translate(182.26 291.10)" d="M6.61 0V-12.92H5.54Q4.9 -11 1.86 -10.5V-9.29H4.99V0Z"/><text transform="translate(192.49 291.10) rotate(0.05)">.0</text>
<path transform="translate(241.09 291.10)" d="M6.61 0V-12.92H5.54Q4.9 -11 1.86 -10.5V-9.29H4.99V0Z"/><text transform="translate(251.32 291.10) rotate(0.05)">.5</text>
<text transform="translate(299.91 291.10) rotate(0.05)">2.0</text>
<text transform="translate(358.74 291.10) rotate(0.05)">2.5</text>
<text transform="translate(417.56 291.10) rotate(0.05)">3.0</text>
<text transform="translate(41.32 272.25) rotate(0.05)">0.0</text>
<text transform="translate(41.32 223.37) rotate(0.05)">0.5</text>
<path transform="translate(41.32 174.49)" d="M6.61 0V-12.92H5.54Q4.9 -11 1.86 -10.5V-9.29H4.99V0Z"/><text transform="translate(51.55 174.49) rotate(0.05)">.0</text>
<path transform="translate(41.32 125.61)" d="M6.61 0V-12.92H5.54Q4.9 -11 1.86 -10.5V-9.29H4.99V0Z"/><text transform="translate(51.55 125.61) rotate(0.05)">.5</text>
<text transform="translate(41.32 76.73) rotate(0.05)">2.0</text>
<text transform="translate(41.32 27.85) rotate(0.05)">2.5</text>
<text transform="translate(291.2 44.20) rotate(0.05) scale(1.23 1)" font-family="'Liberation Serif', serif" font-size="18.4">λ</text>
<path d="M306.9 38.50h8.8M306.9 41.90h8.8" stroke="#000" stroke-width="1.3" fill="none"/>
<text transform="translate(321.3 44.20) rotate(0.05)">0</text>
<text transform="translate(291.2 62.20) rotate(0.05) scale(1.23 1)" font-family="'Liberation Serif', serif" font-size="18.4">λ</text>
<path d="M306.9 56.50h8.8M306.9 59.90h8.8" stroke="#000" stroke-width="1.3" fill="none"/>
<text transform="translate(321.3 62.20) rotate(0.05)">0.2</text>
<text transform="translate(291.2 80.20) rotate(0.05) scale(1.23 1)" font-family="'Liberation Serif', serif" font-size="18.4">λ</text>
<path d="M306.9 74.50h8.8M306.9 77.90h8.8" stroke="#000" stroke-width="1.3" fill="none"/>
<text transform="translate(321.3 80.20) rotate(0.05)">0.5</text>
<text transform="translate(291.2 98.20) rotate(0.05) scale(1.23 1)" font-family="'Liberation Serif', serif" font-size="18.4">λ</text>
<path d="M306.9 92.50h8.8M306.9 95.90h8.8" stroke="#000" stroke-width="1.3" fill="none"/>
<text transform="translate(321.3 98.20) rotate(0.05)">0.7</text>
<text transform="translate(291.2 116.20) rotate(0.05) scale(1.23 1)" font-family="'Liberation Serif', serif" font-size="18.4">λ</text>
<path d="M306.9 110.50h8.8M306.9 113.90h8.8" stroke="#000" stroke-width="1.3" fill="none"/>
<text transform="translate(321.3 116.20) rotate(0.05)">0.9</text>
</g>
<g fill="none" stroke="#ff0000" stroke-width="0.98"><circle cx="383.20" cy="38.40" r="3.5"/><circle cx="383.20" cy="38.40" r="0.45" fill="#ff0000" stroke="none"/></g>
<g fill="none" stroke="#0000ff" stroke-width="0.98"><rect x="379.70" y="52.90" width="7.0" height="7.0"/><circle cx="383.20" cy="56.40" r="0.45" fill="#0000ff" stroke="none"/></g>
<g fill="none" stroke="#ff00ff" stroke-width="0.98"><path d="M383.20 70.48L379.70 76.15H386.70Z"/><circle cx="383.20" cy="74.40" r="0.45" fill="#ff00ff" stroke="none"/></g>
<g fill="none" stroke="#ff4500" stroke-width="0.98"><path d="M383.20 88.90L379.70 92.40L383.20 95.90L386.70 92.40Z"/><circle cx="383.20" cy="92.40" r="0.45" fill="#ff4500" stroke="none"/></g>
<g fill="none" stroke="#787878" stroke-width="1.4"><circle cx="383.20" cy="110.40" r="3.5"/><path d="M383.20 110.40V106.90" stroke-width="1"/></g>
<text transform="translate(253.9 318.0) rotate(0.05) scale(0.89 1)" text-anchor="middle" font-family="'Liberation Serif', serif" font-style="italic" font-size="19" fill="#000">w</text>
<g transform="translate(21.0 163) rotate(-90.05)" font-family="'Liberation Serif', serif" font-size="19" fill="#000">
<text transform="translate(-0.3 -0.8) scale(1.36 0.92)" font-style="italic">f</text>
<text x="11.8" y="0">(</text>
<text transform="translate(18.1 0) scale(1.05 1)" font-style="italic">w</text>
<text x="29.2" y="0">)</text>
</g>
</svg>
</body></html>
